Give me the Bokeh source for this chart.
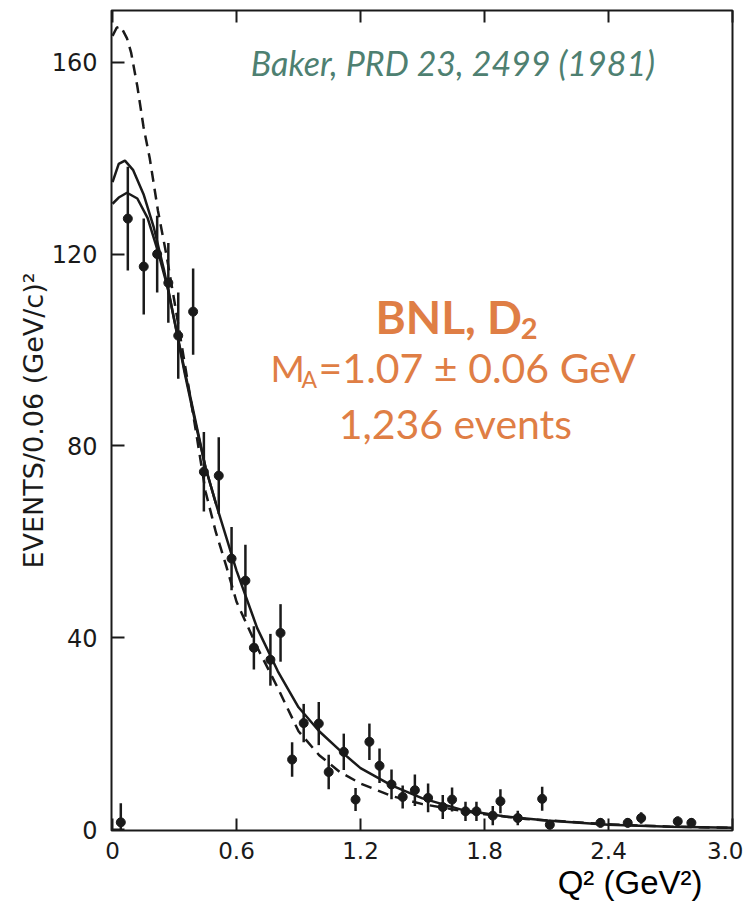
import numpy as np
from bokeh.plotting import figure
from bokeh.models import Label, LinearAxis, FixedTicker, Range1d, Title
from bokeh.embed import file_html
from bokeh.resources import INLINE

# ---- data points (Q^2 in GeV^2, events per 0.06 GeV^2) ----
q_pts = [0.04, 0.074, 0.151, 0.216, 0.27, 0.318, 0.39, 0.442, 0.514, 0.576,
         0.643, 0.684, 0.764, 0.813, 0.869, 0.925, 0.998, 1.046, 1.119, 1.176,
         1.243, 1.292, 1.35, 1.404, 1.463, 1.527, 1.598, 1.643, 1.708, 1.761,
         1.84, 1.877, 1.961, 2.079, 2.116, 2.361, 2.493, 2.558, 2.735, 2.801]
events = [1.5, 127.4, 117.4, 120.0, 114.0, 103.0, 108.0, 74.6, 73.8, 56.5,
          51.9, 37.9, 35.4, 41.0, 14.6, 22.2, 22.1, 12.0, 16.2, 6.25,
          18.3, 13.3, 9.4, 6.8, 8.2, 6.6, 4.7, 6.25, 3.8, 3.8,
          2.9, 5.9, 2.4, 6.4, 1.0, 1.4, 1.4, 2.4, 1.7, 1.4]
errors = [4.0, 10.8, 10.0, 8.0, 8.3, 9.0, 9.0, 8.3, 8.0, 6.6,
          7.5, 4.5, 5.4, 6.0, 3.6, 4.0, 4.5, 3.6, 3.8, 2.4,
          3.8, 3.6, 3.1, 2.4, 3.3, 3.0, 2.5, 2.5, 2.0, 2.0,
          2.0, 2.5, 1.5, 2.5, 1.0, 1.0, 1.0, 1.2, 1.0, 1.0]

# ---- fit curves ----
fit_q = [0.0, 0.03, 0.06, 0.1, 0.15, 0.2, 0.25, 0.3, 0.35, 0.4, 0.45, 0.5,
         0.6, 0.7, 0.8, 0.9, 1.0, 1.1, 1.2, 1.35, 1.5, 1.7, 1.9, 2.1, 2.4,
         2.7, 3.0]
fit_solid = [135.0, 138.8, 139.5, 137.5, 132.5, 125.5, 116.5, 106.0, 95.0,
             85.0, 75.5, 68.0, 54.0, 42.0, 33.0, 25.5, 20.5, 16.5, 12.8, 9.2,
             6.5, 4.0, 2.7, 1.9, 1.0, 0.6, 0.35]

alt_q = [0.0, 0.03, 0.07, 0.12, 0.17, 0.22, 0.27, 0.3, 0.35, 0.4, 0.45, 0.5]
alt_solid = [130.5, 131.8, 132.8, 131.6, 127.5, 120.5, 112.5, 106.0, 95.5,
             85.5, 75.5, 68.0]

dash_q = [0.0, 0.02, 0.04, 0.07, 0.09, 0.12, 0.15, 0.18, 0.22, 0.26, 0.3,
          0.35, 0.4, 0.45, 0.5, 0.55, 0.6, 0.7, 0.8, 0.9, 1.0, 1.1, 1.2,
          1.35, 1.5, 1.65, 1.8, 2.0, 2.4, 2.7, 3.0]
dash_vals = [165.5, 167.2, 167.5, 165.0, 162.0, 155.0, 146.5, 140.0, 129.0,
             120.0, 110.0, 97.0, 84.0, 70.5, 62.0, 55.0, 47.5, 38.0, 29.5,
             20.5, 15.5, 12.0, 9.6, 7.0, 5.3, 4.2, 3.2, 2.2, 1.1, 0.6, 0.35]

x_ticks = [0, 0.6, 1.2, 1.8, 2.4, 3.0]
x_tick_labels = ["0", "0.6", "1.2", "1.8", "2.4", "3.0"]
y_ticks = [0, 40, 80, 120, 160]

ORANGE = "#DF7E45"
TEAL = "#4E8071"
INK = "#1a1a1a"

p = figure(width=743, height=901, x_range=Range1d(-0.005, 3.0),
           y_range=Range1d(-0.2, 170.8), output_backend="svg",
           toolbar_location=None, min_border_left=111, min_border_right=11,
           min_border_top=10, min_border_bottom=71, x_axis_location=None,
           y_axis_location=None)
p.background_fill_color = "white"
p.border_fill_color = "white"
p.outline_line_color = INK
p.outline_line_width = 2
p.xgrid.visible = False
p.ygrid.visible = False

xb = LinearAxis(ticker=FixedTicker(ticks=x_ticks),
                major_label_overrides={t: l for t, l in zip(x_ticks, x_tick_labels)})
xb.major_tick_in = 12
xb.major_tick_out = 0
xb.minor_tick_line_color = None
xb.axis_line_color = None
xb.major_tick_line_width = 2
xb.major_tick_line_color = INK
xb.major_label_standoff = 11
xb.major_label_text_font = "DejaVu Sans"
xb.major_label_text_font_size = "23px"
xb.major_label_text_color = INK
p.add_layout(xb, "below")

xt = LinearAxis(ticker=FixedTicker(ticks=x_ticks))
xt.major_tick_in = 12
xt.major_tick_out = 0
xt.minor_tick_line_color = None
xt.axis_line_color = None
xt.major_tick_line_width = 2
xt.major_tick_line_color = INK
xt.major_label_standoff = 0
xt.major_label_text_font_size = "0px"
xt.major_label_text_alpha = 0
p.add_layout(xt, "above")

yl = LinearAxis(ticker=FixedTicker(ticks=y_ticks))
yl.major_tick_in = 13
yl.major_tick_out = 0
yl.minor_tick_line_color = None
yl.axis_line_color = None
yl.major_tick_line_width = 2
yl.major_tick_line_color = INK
yl.major_label_standoff = 14
yl.major_label_text_font = "DejaVu Sans"
yl.major_label_text_font_size = "24px"
yl.major_label_text_color = INK
p.add_layout(yl, "left")

# axis titles placed in the side panels
p.add_layout(Title(text="EVENTS/0.06 (GeV/c)\u00b2", align="center", offset=0,
                   standoff=0, text_font="DejaVu Sans",
                   text_font_size="27px", text_font_style="normal",
                   text_color=INK), "left")
p.add_layout(Title(text="Q\u00b2 (GeV\u00b2)", align="right", offset=30,
                   standoff=0, text_font="Liberation Sans",
                   text_font_size="33px", text_font_style="normal",
                   text_color="black"), "below")

# curves
p.line(dash_q, dash_vals, line_color=INK, line_width=2.5, line_dash="11 7")
p.line(alt_q, alt_solid, line_color=INK, line_width=2.5)
p.line(fit_q, fit_solid, line_color=INK, line_width=2.5)

# data with error bars
q_arr = np.array(q_pts)
ev_arr = np.array(events)
er_arr = np.array(errors)
p.segment(q_arr, ev_arr - er_arr, q_arr, ev_arr + er_arr, line_color=INK,
          line_width=2.5)
p.scatter(q_arr, ev_arr, size=9, color=INK)

# annotations
p.add_layout(Label(x=1.647, y=160.0, text="Baker, PRD 23, 2499 (1981)",
                   text_align="center", text_baseline="alphabetic",
                   text_font="Lato", text_font_style="italic",
                   text_font_size="34px", text_color=TEAL))
p.add_layout(Label(x=1.272, y=106.9, text="BNL, D", text_align="left",
                   text_baseline="alphabetic", text_font="Lato",
                   text_font_style="bold", text_font_size="46px",
                   text_color=ORANGE))
p.add_layout(Label(x=1.975, y=104.4, text="2", text_align="left",
                   text_baseline="alphabetic", text_font="Lato",
                   text_font_style="bold", text_font_size="29px",
                   text_color=ORANGE))
p.add_layout(Label(x=0.764, y=96.45, text="M", text_align="left",
                   text_baseline="alphabetic", text_font="Lato",
                   text_font_size="37px", text_color=ORANGE))
p.add_layout(Label(x=0.914, y=93.95, text="A", text_align="left",
                   text_baseline="alphabetic", text_font="Lato",
                   text_font_size="23px", text_color=ORANGE))
p.add_layout(Label(x=0.997, y=96.45, text="=1.07 \u00b1 0.06 GeV",
                   text_align="left", text_baseline="alphabetic",
                   text_font="Lato", text_font_size="41px", text_color=ORANGE))
p.add_layout(Label(x=1.659, y=84.6, text="1,236 events", text_align="center",
                   text_baseline="alphabetic", text_font="Lato",
                   text_font_size="41px", text_color=ORANGE))

open("out.html", "w").write(file_html(p, INLINE))
